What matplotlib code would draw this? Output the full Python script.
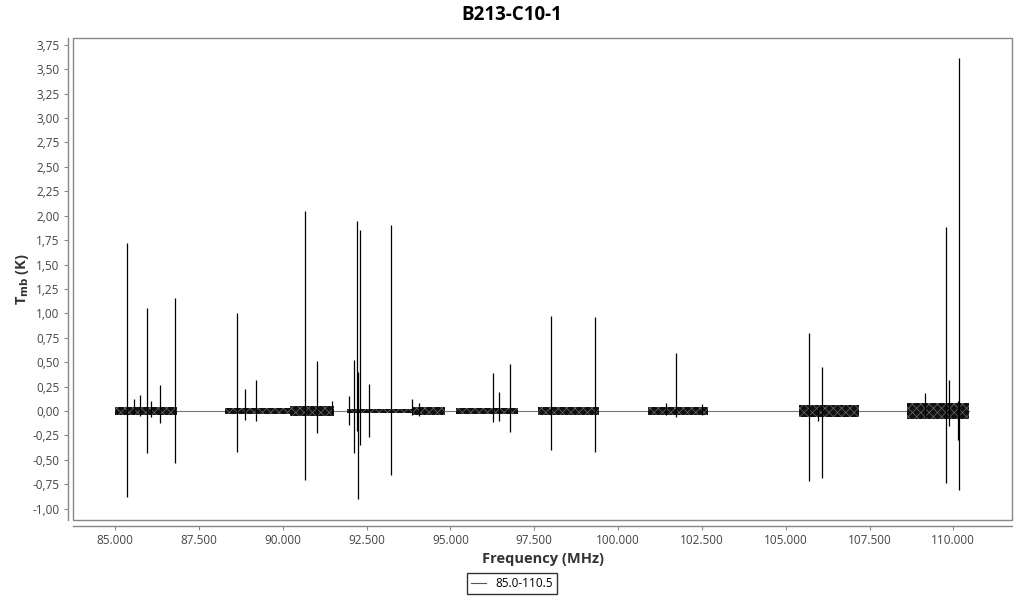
import matplotlib.pyplot as plt
from matplotlib.patches import Rectangle
from matplotlib.ticker import FixedLocator, FuncFormatter

plt.rcParams['font.family'] = ['Open Sans', 'DejaVu Sans']
plt.rcParams['hatch.linewidth'] = 0.5

# observed bands: start / end frequency (MHz) and half-width of the noise (K)
band_start = [85.00, 88.28, 90.20, 91.90, 93.85, 95.16, 97.62, 100.90, 105.40, 108.63]
band_end = [86.83, 90.20, 91.54, 93.85, 94.83, 97.00, 99.43, 102.69, 107.20, 110.47]
band_noise = [0.045, 0.030, 0.055, 0.022, 0.040, 0.035, 0.040, 0.040, 0.060, 0.080]

# lines: frequency (MHz), peak and trough (K)
line_freq = [85.36, 85.55, 85.73, 85.94, 86.08, 86.34, 86.77,
             88.64, 88.88, 89.21, 90.67, 91.01, 91.48,
             91.98, 92.12, 92.22, 92.25, 92.31, 92.57, 93.22, 93.86, 94.05,
             96.28, 96.46, 96.79,
             97.99, 99.32,
             101.43, 101.73, 102.51,
             105.70, 105.97, 106.09,
             109.17, 109.77, 109.88, 110.14, 110.18]
line_max = [1.72, 0.12, 0.16, 1.05, 0.10, 0.27, 1.16,
            1.00, 0.23, 0.32, 2.05, 0.51, 0.10,
            0.15, 0.52, 1.95, 0.40, 1.85, 0.28, 1.91, 0.12, 0.08,
            0.39, 0.20, 0.48,
            0.97, 0.96,
            0.08, 0.59, 0.07,
            0.80, 0.04, 0.45,
            0.18, 1.88, 0.32, 0.10, 3.61]
line_min = [-0.88, -0.03, -0.05, -0.43, -0.06, -0.12, -0.53,
            -0.42, -0.09, -0.10, -0.71, -0.22, -0.04,
            -0.14, -0.43, -0.20, -0.90, -0.35, -0.27, -0.66, -0.04, -0.05,
            -0.11, -0.10, -0.21,
            -0.40, -0.42,
            -0.04, -0.06, -0.04,
            -0.72, -0.10, -0.69,
            -0.06, -0.74, -0.15, -0.30, -0.81]

x_ticks = [85.0, 87.5, 90.0, 92.5, 95.0, 97.5, 100.0, 102.5, 105.0, 107.5, 110.0]
y_ticks = [-1.0, -0.75, -0.5, -0.25, 0.0, 0.25, 0.5, 0.75, 1.0, 1.25, 1.5, 1.75,
           2.0, 2.25, 2.5, 2.75, 3.0, 3.25, 3.5, 3.75]

fig = plt.figure(figsize=(10.24, 6), dpi=100)
ax = fig.add_axes([0.0716, 0.1333, 0.917, 0.8034])

# baseline through the whole range
ax.plot([band_start[0], band_end[-1]], [0, 0], color='#777777', lw=0.8,
        label='85.0-110.5', zorder=2)
# noisy bands, drawn dark with a grey hatch to mimic the speckle
for s, e, n in zip(band_start, band_end, band_noise):
    ax.fill_between([s, e], [-n, -n], [n, n], facecolor='#111111',
                    edgecolor='#6a6a6a', hatch='xxxx', lw=0, zorder=3)
ax.vlines(line_freq, line_min, line_max, color='black', lw=0.9, zorder=4)

ax.set_xlim(83.75, 111.76)
ax.set_ylim(-1.116, 3.82)

# inner frame
for sp in ax.spines.values():
    sp.set_visible(False)
ax.add_patch(Rectangle((0, 0), 1, 1, transform=ax.transAxes, fill=False,
                       edgecolor='#888888', lw=1, zorder=5, clip_on=False))
for side in ['left', 'bottom']:
    ax.spines[side].set_visible(True)
    ax.spines[side].set_position(('outward', 4))
    ax.spines[side].set_color('#888888')
    ax.spines[side].set_linewidth(1)

ax.xaxis.set_major_locator(FixedLocator(x_ticks))
ax.yaxis.set_major_locator(FixedLocator(y_ticks))
ax.xaxis.set_major_formatter(FuncFormatter(lambda v, p: f"{v:.3f}"))
ax.yaxis.set_major_formatter(FuncFormatter(lambda v, p: f"{v:.2f}".replace('.', ',')))
ax.tick_params(direction='out', length=3, width=0.8, color='#888888',
               labelcolor='#444444', labelsize=8.5, pad=3)

ax.set_xlabel('Frequency (MHz)', fontsize=10.5, fontweight='bold', color='#333333', labelpad=4)
ax.set_ylabel(r'T$_{\mathbf{mb}}$ (K)', fontsize=10.5, fontweight='bold', color='#333333', labelpad=1)
fig.suptitle('B213-C10-1', fontsize=13.5, fontweight='bold', y=0.992)

leg = fig.legend(loc='lower center', bbox_to_anchor=(0.5, 0.0), fontsize=8.5,
                 frameon=True, fancybox=False, handlelength=1.2, borderpad=0.35)
leg.get_frame().set_edgecolor('black')
leg.get_frame().set_linewidth(1)
for l in leg.get_lines():
    l.set_color('#555555')

fig.savefig('out.png', dpi=100)
